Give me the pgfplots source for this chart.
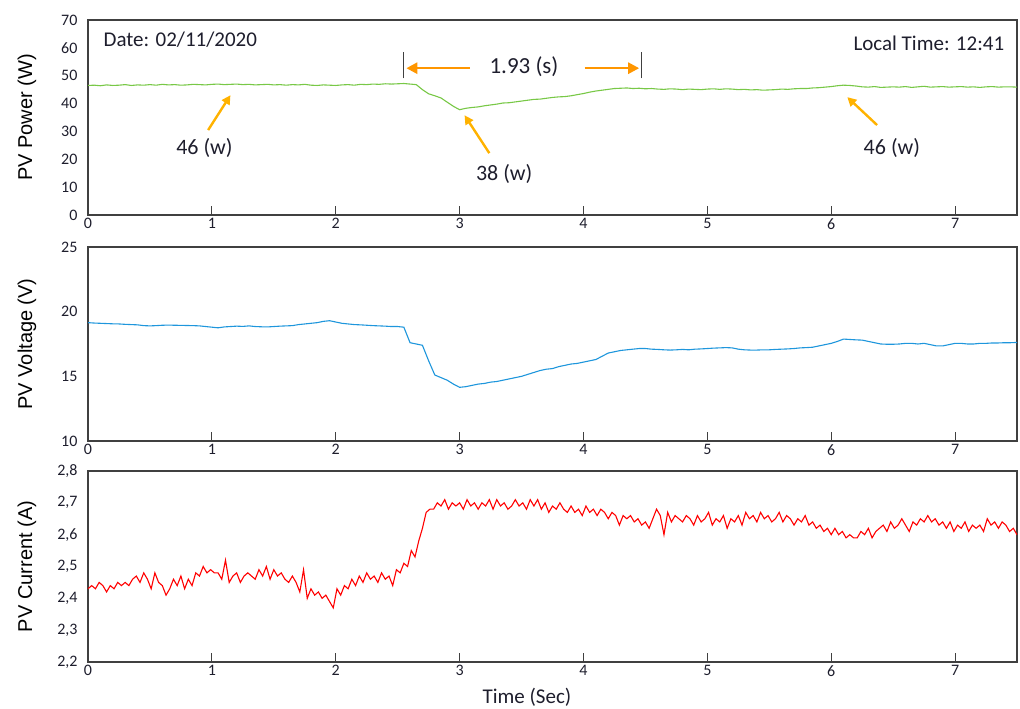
\documentclass[border=0pt]{standalone}
\usepackage{pgfplots}
\pgfplotsset{compat=1.18}
\usepackage{pgfplotstable}
\usepackage{fontspec}
\setmainfont{Carlito}
\newfontfamily\arialf{Liberation Sans}
\usetikzlibrary{arrows.meta}
\definecolor{pgreen}{RGB}{120,200,70}
\definecolor{vblue}{RGB}{30,150,220}
\definecolor{amber}{RGB}{255,178,0}
\definecolor{orng}{RGB}{255,150,0}
\definecolor{axgray}{RGB}{64,64,64}
\definecolor{ticktxt}{RGB}{30,30,45}

\pgfplotstableread[row sep=\\]{P\\
46.5\\ 46.6\\ 46.4\\ 46.7\\ 46.5\\ 46.6\\ 46.8\\ 46.5\\ 46.7\\ 46.6\\
46.8\\ 46.6\\ 46.9\\ 46.7\\ 46.8\\ 46.6\\ 46.7\\ 46.9\\ 46.8\\ 46.7\\
46.9\\ 47.0\\ 46.8\\ 46.9\\ 47.0\\ 46.8\\ 46.9\\ 46.7\\ 46.8\\ 46.9\\
46.7\\ 46.8\\ 46.6\\ 46.8\\ 46.7\\ 46.9\\ 46.6\\ 46.5\\ 46.7\\ 46.6\\
46.5\\ 46.7\\ 46.8\\ 46.6\\ 46.9\\ 46.8\\ 47.0\\ 46.9\\ 47.1\\ 47.0\\
47.1\\ 47.2\\ 47.0\\ 46.8\\ 45.0\\ 43.5\\ 42.8\\ 42.0\\ 40.5\\ 39.0\\
37.8\\ 38.3\\ 38.6\\ 38.8\\ 39.2\\ 39.5\\ 39.8\\ 40.2\\ 40.3\\ 40.6\\
40.9\\ 41.2\\ 41.5\\ 41.6\\ 41.9\\ 42.2\\ 42.4\\ 42.5\\ 42.8\\ 43.2\\
43.6\\ 44.1\\ 44.5\\ 44.8\\ 45.1\\ 45.4\\ 45.5\\ 45.6\\ 45.4\\ 45.5\\
45.3\\ 45.4\\ 45.2\\ 45.1\\ 45.3\\ 45.2\\ 45.0\\ 45.2\\ 45.1\\ 45.0\\
45.2\\ 45.3\\ 45.1\\ 45.3\\ 45.2\\ 45.0\\ 45.1\\ 44.9\\ 45.0\\ 44.8\\
44.9\\ 45.0\\ 45.2\\ 45.1\\ 45.3\\ 45.4\\ 45.4\\ 45.6\\ 45.7\\ 45.9\\
46.1\\ 46.4\\ 46.6\\ 46.5\\ 46.3\\ 46.0\\ 45.9\\ 46.1\\ 45.8\\ 45.9\\
46.0\\ 45.9\\ 46.1\\ 45.8\\ 46.0\\ 46.2\\ 45.9\\ 46.0\\ 46.1\\ 45.9\\
46.0\\ 46.1\\ 45.9\\ 46.0\\ 45.8\\ 46.0\\ 46.1\\ 45.9\\ 46.0\\ 46.0\\
45.9\\
}\powertab

\pgfplotstableread[row sep=\\]{V\\
19.15\\ 19.12\\ 19.10\\ 19.08\\ 19.06\\ 19.05\\ 19.02\\ 19.00\\ 18.98\\ 18.92\\
18.90\\ 18.92\\ 18.95\\ 18.96\\ 18.95\\ 18.94\\ 18.93\\ 18.92\\ 18.90\\ 18.85\\
18.80\\ 18.75\\ 18.82\\ 18.85\\ 18.88\\ 18.86\\ 18.90\\ 18.85\\ 18.83\\ 18.82\\
18.85\\ 18.88\\ 18.90\\ 18.92\\ 19.00\\ 19.05\\ 19.10\\ 19.15\\ 19.25\\ 19.30\\
19.20\\ 19.10\\ 19.05\\ 19.00\\ 18.98\\ 18.95\\ 18.92\\ 18.90\\ 18.88\\ 18.85\\
18.85\\ 18.80\\ 17.60\\ 17.50\\ 17.40\\ 16.20\\ 15.10\\ 14.90\\ 14.70\\ 14.40\\
14.15\\ 14.20\\ 14.30\\ 14.40\\ 14.45\\ 14.55\\ 14.60\\ 14.70\\ 14.80\\ 14.90\\
15.00\\ 15.15\\ 15.30\\ 15.45\\ 15.55\\ 15.60\\ 15.75\\ 15.85\\ 15.95\\ 16.00\\
16.10\\ 16.20\\ 16.30\\ 16.55\\ 16.80\\ 16.90\\ 17.00\\ 17.05\\ 17.10\\ 17.15\\
17.15\\ 17.10\\ 17.08\\ 17.05\\ 17.03\\ 17.05\\ 17.08\\ 17.05\\ 17.10\\ 17.12\\
17.15\\ 17.18\\ 17.20\\ 17.22\\ 17.20\\ 17.10\\ 17.05\\ 17.03\\ 17.03\\ 17.05\\
17.05\\ 17.08\\ 17.10\\ 17.12\\ 17.15\\ 17.20\\ 17.22\\ 17.25\\ 17.35\\ 17.45\\
17.55\\ 17.70\\ 17.88\\ 17.85\\ 17.82\\ 17.80\\ 17.70\\ 17.60\\ 17.50\\ 17.48\\
17.48\\ 17.50\\ 17.55\\ 17.55\\ 17.50\\ 17.55\\ 17.45\\ 17.35\\ 17.35\\ 17.45\\
17.55\\ 17.55\\ 17.50\\ 17.50\\ 17.55\\ 17.55\\ 17.58\\ 17.58\\ 17.60\\ 17.60\\
17.62\\
}\volttab

\pgfplotstableread[row sep=\\]{I\\
2.43\\ 2.44\\ 2.43\\ 2.45\\ 2.44\\ 2.42\\ 2.44\\ 2.43\\ 2.45\\ 2.44\\
2.45\\ 2.44\\ 2.46\\ 2.47\\ 2.45\\ 2.48\\ 2.46\\ 2.43\\ 2.48\\ 2.45\\
2.44\\ 2.41\\ 2.43\\ 2.46\\ 2.44\\ 2.47\\ 2.43\\ 2.46\\ 2.44\\ 2.48\\
2.47\\ 2.50\\ 2.48\\ 2.49\\ 2.48\\ 2.48\\ 2.46\\ 2.52\\ 2.45\\ 2.47\\
2.48\\ 2.45\\ 2.47\\ 2.48\\ 2.47\\ 2.46\\ 2.49\\ 2.47\\ 2.50\\ 2.46\\
2.49\\ 2.47\\ 2.48\\ 2.46\\ 2.45\\ 2.47\\ 2.45\\ 2.42\\ 2.49\\ 2.40\\
2.43\\ 2.41\\ 2.42\\ 2.40\\ 2.41\\ 2.39\\ 2.37\\ 2.43\\ 2.41\\ 2.44\\
2.43\\ 2.46\\ 2.44\\ 2.47\\ 2.45\\ 2.48\\ 2.46\\ 2.47\\ 2.45\\ 2.48\\
2.46\\ 2.47\\ 2.44\\ 2.49\\ 2.48\\ 2.51\\ 2.50\\ 2.55\\ 2.53\\ 2.58\\
2.62\\ 2.67\\ 2.68\\ 2.68\\ 2.70\\ 2.69\\ 2.71\\ 2.68\\ 2.70\\ 2.69\\
2.70\\ 2.68\\ 2.71\\ 2.69\\ 2.70\\ 2.68\\ 2.70\\ 2.69\\ 2.71\\ 2.68\\
2.71\\ 2.69\\ 2.70\\ 2.68\\ 2.69\\ 2.71\\ 2.69\\ 2.70\\ 2.68\\ 2.71\\
2.69\\ 2.71\\ 2.68\\ 2.70\\ 2.67\\ 2.69\\ 2.68\\ 2.70\\ 2.68\\ 2.67\\
2.69\\ 2.67\\ 2.68\\ 2.66\\ 2.69\\ 2.67\\ 2.68\\ 2.66\\ 2.68\\ 2.67\\
2.65\\ 2.67\\ 2.66\\ 2.63\\ 2.66\\ 2.65\\ 2.66\\ 2.64\\ 2.65\\ 2.63\\
2.64\\ 2.62\\ 2.65\\ 2.68\\ 2.66\\ 2.60\\ 2.67\\ 2.64\\ 2.66\\ 2.65\\
2.64\\ 2.66\\ 2.65\\ 2.63\\ 2.66\\ 2.64\\ 2.65\\ 2.67\\ 2.63\\ 2.65\\
2.64\\ 2.66\\ 2.62\\ 2.65\\ 2.64\\ 2.66\\ 2.63\\ 2.67\\ 2.65\\ 2.66\\
2.64\\ 2.67\\ 2.65\\ 2.66\\ 2.64\\ 2.65\\ 2.67\\ 2.64\\ 2.66\\ 2.65\\
2.63\\ 2.65\\ 2.64\\ 2.66\\ 2.63\\ 2.64\\ 2.62\\ 2.63\\ 2.61\\ 2.62\\
2.60\\ 2.62\\ 2.60\\ 2.61\\ 2.59\\ 2.60\\ 2.59\\ 2.59\\ 2.61\\ 2.60\\
2.62\\ 2.59\\ 2.61\\ 2.62\\ 2.63\\ 2.61\\ 2.64\\ 2.62\\ 2.63\\ 2.65\\
2.63\\ 2.61\\ 2.64\\ 2.63\\ 2.65\\ 2.64\\ 2.66\\ 2.64\\ 2.65\\ 2.63\\
2.64\\ 2.62\\ 2.64\\ 2.61\\ 2.63\\ 2.62\\ 2.64\\ 2.61\\ 2.63\\ 2.62\\
2.63\\ 2.61\\ 2.65\\ 2.63\\ 2.64\\ 2.62\\ 2.64\\ 2.63\\ 2.61\\ 2.62\\
2.60\\
}\currtab

\pgfplotsset{common/.style={
  scale only axis, width=929pt,
  xmin=0, xmax=7.5, xtick={0,1,2,3,4,5,6,7},
  tick align=inside, xtick pos=bottom, ytick pos=left,
  ytick style={draw=none},
  major tick length=9pt,
  xtick style={axgray, line width=1pt},
  axis line style={axgray, line width=1.3pt},
  tick label style={font=\fontsize{16}{18}\selectfont, text=ticktxt},
  yticklabel style={xshift=-7pt},
  /pgf/number format/assume math mode=true,
  ylabel style={font=\arialf\fontsize{20}{24}\selectfont,
    at={(axis description cs:-0.0657,0.5)}, anchor=center},
  clip=false,
}}

\begin{document}
\begin{tikzpicture}
\useasboundingbox (0pt,0pt) rectangle (1020pt,709pt);

% ---------- Power ----------
\begin{axis}[common, height=195pt, at={(88pt,494pt)}, anchor=south west,
  ymin=0, ymax=70, ytick={0,10,20,30,40,50,60,70},
  ylabel={PV Power (W)}]
\addplot[pgreen, line width=1.1pt] table[x expr=\coordindex*0.05, y=P] {\powertab};
\node[anchor=west, font=\fontsize{21}{25}\selectfont, text=ticktxt]
  at (axis description cs:0.013,0.9) {Date: 02/11/2020};
\node[anchor=east, font=\fontsize{21}{25}\selectfont, text=ticktxt]
  at (axis description cs:0.99,0.88) {Local Time: 12:41};
\node[font=\fontsize{23}{27}\selectfont, text=ticktxt] at (axis cs:3.52,53.2) {1.93 (s)};
\draw[axgray, line width=1pt] (axis cs:2.55,49) -- (axis cs:2.55,58.5);
\draw[axgray, line width=1pt] (axis cs:4.47,49) -- (axis cs:4.47,58.5);
\draw[orng, line width=2.6pt, -{Triangle[length=11pt,width=11pt]}] (axis cs:3.08,52.7) -- (axis cs:2.57,52.7);
\draw[orng, line width=2.6pt, -{Triangle[length=11pt,width=11pt]}] (axis cs:4.01,52.7) -- (axis cs:4.45,52.7);
\draw[amber, line width=2.4pt, -{Triangle[length=9pt,width=9pt]}] (axis cs:0.97,30.5) -- (axis cs:1.15,43.0);
\node[font=\fontsize{22}{26}\selectfont, text=ticktxt] at (axis cs:0.94,24.0) {46 (w)};
\draw[amber, line width=2.4pt, -{Triangle[length=9pt,width=9pt]}] (axis cs:3.24,22.2) -- (axis cs:3.04,35.8);
\node[font=\fontsize{22}{26}\selectfont, text=ticktxt] at (axis cs:3.36,14.8) {38 (w)};
\draw[amber, line width=2.4pt, -{Triangle[length=9pt,width=9pt]}] (axis cs:6.37,32.3) -- (axis cs:6.13,42.3);
\node[font=\fontsize{22}{26}\selectfont, text=ticktxt] at (axis cs:6.49,24.0) {46 (w)};
\end{axis}

% ---------- Voltage ----------
\begin{axis}[common, height=194pt, at={(88pt,268pt)}, anchor=south west,
  ymin=10, ymax=25, ytick={10,15,20,25},
  ylabel={PV Voltage (V)}]
\addplot[vblue, line width=1.1pt] table[x expr=\coordindex*0.05, y=V] {\volttab};
\end{axis}

% ---------- Current ----------
\begin{axis}[common, height=191pt, at={(88pt,47pt)}, anchor=south west,
  ymin=2.2, ymax=2.8, ytick={2.2,2.3,2.4,2.5,2.6,2.7,2.8},
  yticklabel style={/pgf/number format/.cd, fixed, fixed zerofill, precision=1, use comma},
  ylabel={PV Current (A)},
  xlabel={Time (Sec)},
  xlabel style={font=\fontsize{21}{25}\selectfont, text=ticktxt,
    at={(axis description cs:0.4725,0)}, anchor=center, yshift=-35pt}]
\addplot[red, line width=1.1pt] table[x expr=\coordindex*0.03, y=I] {\currtab};
\end{axis}
\end{tikzpicture}
\end{document}
